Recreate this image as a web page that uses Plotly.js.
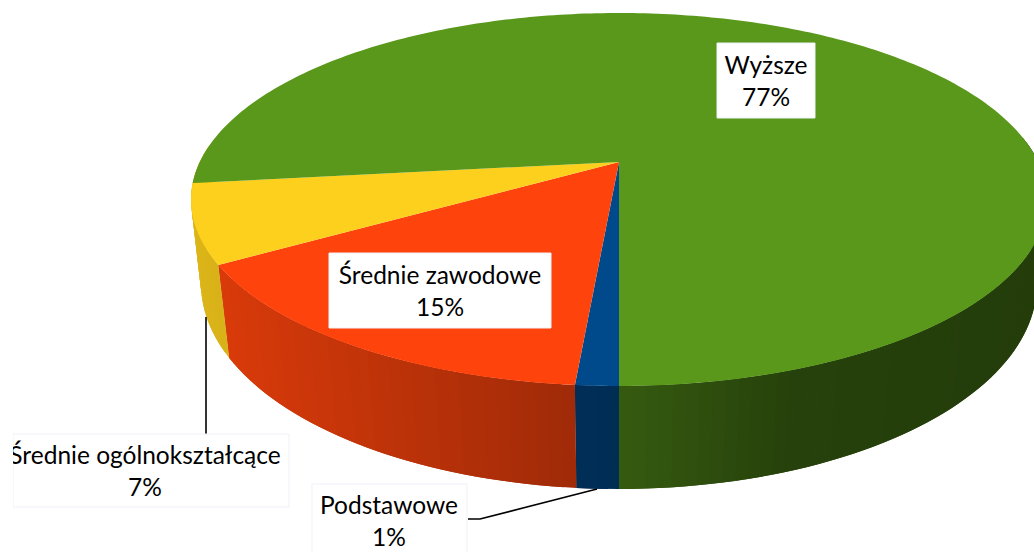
<!DOCTYPE html>
<html>
<head>
<meta charset="utf-8">
<script src="https://cdn.plot.ly/plotly-3.0.1.min.js"></script>
<style>html,body{margin:0;padding:0;background:#fff}#chart{width:1034px;height:552px}</style>
</head>
<body>
<div id="chart"></div>
<script>
// ---- data (clockwise from the front of the pie) ----
const categories = ['Podstawowe', 'Średnie zawodowe', 'Średnie ogólnokształcące', 'Wyższe'];
const shares = [1.34, 15.03, 6.8, 76.83];
const topColors = [[0, 74, 139], [254, 68, 12], [252, 208, 28], [89, 152, 26]];

// ---- perspective of the pie ----
function ring(cx, cy, near, far, halfWidth) {
  const k = (far - near) / (far + near);
  return {cx, cy, k, a: halfWidth * Math.sqrt(1 - k * k), b: near * (1 + k)};
}
const topRing = ring(619, 162, 224, 149, 428);
const baseRing = ring(619, 245, 244, 166, 418);
function project(r, deg) {
  const t = deg * Math.PI / 180, u = -Math.sin(t), v = Math.cos(t), w = 1 + r.k * v;
  return [r.cx + r.a * u / w, r.cy + r.b * v / w];
}
function wallShade(x) {
  const xs = [190, 619, 790, 1040], fs = [0.875, 0.60, 0.43, 0.40];
  for (let i = 0; i < xs.length - 1; i++) {
    if (x <= xs[i + 1]) return fs[i] + (fs[i + 1] - fs[i]) * (x - xs[i]) / (xs[i + 1] - xs[i]);
  }
  return fs[fs.length - 1];
}
const rgb = (c, f) => `rgb(${c.map(v => Math.round(v * f)).join(',')})`;

const traces = [];
const poly = (xs, ys, fill, line, width) => traces.push({
  type: 'scatter', mode: width ? 'lines' : 'none', x: xs, y: ys, fill: 'toself', fillcolor: fill,
  line: {color: line || fill, width: width || 0, simplify: false}, hoverinfo: 'skip', showlegend: false
});

// slice limits in degrees
const bounds = [0];
shares.forEach(s => bounds.push(bounds[bounds.length - 1] + s * 3.6));

// side walls: each strip runs under the one painted after it, so no seams show
const visible = [
  [bounds[0], bounds[1]],
  [bounds[1], bounds[2]],
  [bounds[2], bounds[3] + 12],    // follows the silhouette on the left
  [262, bounds[4]]
];
const step = 1.5;
[3, 0, 1, 2].forEach(i => {
  const from = visible[i][0], to = visible[i][1];
  const n = Math.max(1, Math.ceil((to - from) / step));
  for (let j = 0; j < n; j++) {
    const a = from + (to - from) * j / n;
    const b = Math.min(to, from + (to - from) * (j + 2) / n);
    const mid = from + (to - from) * (j + 0.5) / n;
    const p = project(topRing, a), q = project(topRing, b), r = project(baseRing, b), s = project(baseRing, a);
    const col = rgb(topColors[i], wallShade((project(topRing, mid)[0] + project(baseRing, mid)[0]) / 2));
    poly([p[0], q[0], r[0], s[0], p[0]], [p[1], q[1], r[1], s[1], p[1]], col);
  }
});

// top surface
categories.forEach((name, i) => {
  const xs = [topRing.cx], ys = [topRing.cy];
  const n = Math.ceil(bounds[i + 1] - bounds[i]);
  for (let j = 0; j <= n; j++) {
    const p = project(topRing, bounds[i] + (bounds[i + 1] - bounds[i]) * j / n);
    xs.push(p[0]); ys.push(p[1]);
  }
  xs.push(topRing.cx); ys.push(topRing.cy);
  poly(xs, ys, rgb(topColors[i], 1));
});

// leader lines
const leader = (xs, ys) => traces.push({
  type: 'scatter', mode: 'lines', x: xs, y: ys, line: {color: '#000', width: 1.6},
  hoverinfo: 'skip', showlegend: false
});
leader([206, 206], [317, 434]);
leader([597, 480, 468], [489, 519, 519]);

// label boxes and label text: [left, right, top, bottom, centre x, centre y]
const boxes = [
  [312, 467, 484, 560, 389, 524],
  [329, 551, 253, 328, 440, 294],
  [13, 289, 434, 507, 145, 474],
  [717, 815, 43, 118, 766, 84]
];
boxes.forEach(b => poly([b[0], b[1], b[1], b[0], b[0]], [b[2], b[2], b[3], b[3], b[2]], '#ffffff', '#EEF1F8', 1));
categories.forEach((name, i) => traces.push({
  type: 'scatter', mode: 'text', x: [boxes[i][4]], y: [boxes[i][5]],
  text: [name + '<br>' + Math.round(shares[i]) + '%'], textposition: 'middle center',
  textfont: {family: 'Lato, sans-serif', size: 24.5, color: '#000'},
  cliponaxis: true, hoverinfo: 'skip', showlegend: false
}));

const hidden = {visible: false, fixedrange: true, showgrid: false, zeroline: false};
Plotly.newPlot('chart', traces, {
  width: 1034, height: 552,
  margin: {l: 0, r: 0, t: 0, b: 0, pad: 0},
  paper_bgcolor: '#fff', plot_bgcolor: '#fff',
  xaxis: Object.assign({range: [13, 1034], domain: [13 / 1034, 1]}, hidden),
  yaxis: Object.assign({range: [552, 0], domain: [0, 1]}, hidden),
  showlegend: false
}, {staticPlot: true, displayModeBar: false});
</script>
</body>
</html>
